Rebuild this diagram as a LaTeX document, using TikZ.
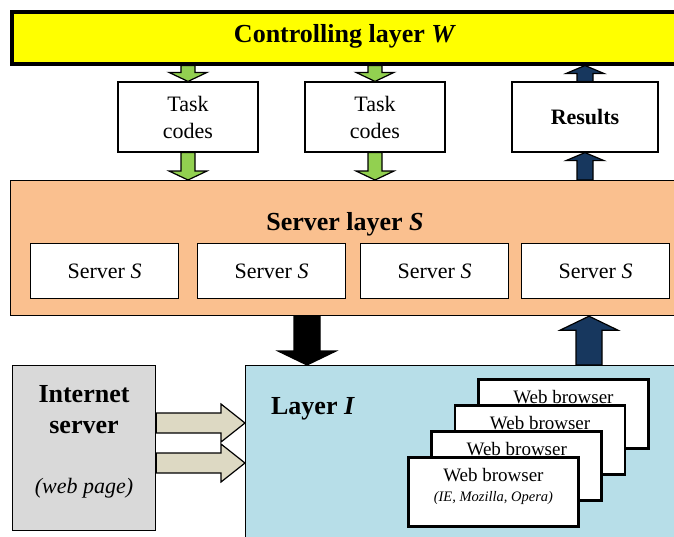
\documentclass[tikz,border=0pt]{standalone}
\usepackage{fontspec}
\setmainfont{Liberation Serif}
\usetikzlibrary{calc}

\definecolor{ctrlyellow}{HTML}{FFFF00}
\definecolor{taskgreen}{HTML}{92D050}
\definecolor{resnavy}{HTML}{17375E}
\definecolor{srvpeach}{HTML}{FAC08F}
\definecolor{layerblue}{HTML}{B7DEE8}
\definecolor{inetgray}{HTML}{D9D9D9}
\definecolor{pagebeige}{HTML}{DDD9C3}

% block arrow from #2 to #3: fill #1, shaft half width #4, head half width #5, head length #6
\newcommand{\blockarrow}[6]{%
  \coordinate (ah) at ($(#3)!#6!(#2)$);
  \filldraw[fill=#1, line width=1.2pt, line join=miter]
    ($(#2)!#4!90:(#3)$) -- ($(ah)!#4!90:(#3)$) -- ($(ah)!#5!90:(#3)$) -- (#3)
    -- ($(ah)!#5!-90:(#3)$) -- ($(ah)!#4!-90:(#3)$) -- ($(#2)!#4!-90:(#3)$) -- cycle;
}

\begin{document}
\begin{tikzpicture}[x=1pt, y=-1pt,
    box/.style={draw, line width=1.2pt, fill=white, inner sep=0pt, align=center},
    layerbox/.style={draw, line width=1.2pt, inner sep=0pt, anchor=north west},
    browser/.style={draw, line width=2.8pt, fill=white, inner sep=0pt, anchor=north west,
      minimum width=170pt, minimum height=69pt},
    titletext/.style={font=\bfseries\fontsize{26}{30}\selectfont, align=center}]
  \useasboundingbox (0,0) rectangle (674,536);
  \clip (0,0) rectangle (674,536);

  % layers
  \node[layerbox, fill=ctrlyellow, line width=3.5pt, minimum width=670pt, minimum height=52pt] (ctrl) at (10,10) {};
  \node[titletext] (ctrltitle) at (345,36) {Controlling layer \textit{W}};
  \node[layerbox, fill=srvpeach, minimum width=670pt, minimum height=135pt] (srvlayer) at (10,180) {};
  \node[titletext] (srvtitle) at (345,224) {Server layer \textit{S}};
  \node[layerbox, fill=layerblue, minimum width=440pt, minimum height=200pt] (layerI) at (245,365) {};
  \node[titletext, font=\bfseries\fontsize{26}{30}\selectfont] (layerItitle) at (313,409) {Layer \textit{I}};
  \node[layerbox, fill=inetgray, minimum width=143pt, minimum height=165pt] (inet) at (12,365) {};
  \node[titletext, font=\bfseries\fontsize{26}{31}\selectfont] (inettitle) at (84,410) {Internet\\server};
  \node[font=\itshape\fontsize{22}{26}\selectfont] (inetpage) at (84,488) {(web page)};

  % boxes between the layers
  \node[box, minimum width=140pt, minimum height=70pt, font=\fontsize{22}{27}\selectfont] (tc1) at (188,117) {Task\\codes};
  \node[box, minimum width=140pt, minimum height=70pt, font=\fontsize{22}{27}\selectfont] (tc2) at (375,117) {Task\\codes};
  \node[box, minimum width=146pt, minimum height=70pt, font=\bfseries\fontsize{22}{27}\selectfont] (res) at (585,117) {Results};

  % servers
  \foreach \i/\sx in {1/30, 2/197, 3/360, 4/521}
    \node[box, anchor=north west, minimum width=148pt, minimum height=55pt,
      font=\fontsize{22}{25}\selectfont] (srv\i) at (\sx,243) {Server \textit{S}};

  % web browsers, back to front
  \foreach \i in {0,...,3}
    \node[browser, label={[font=\fontsize{19}{22}\selectfont, anchor=north, inner sep=0pt, yshift=-12pt]north:Web browser}]
      (b\i) at ({477-23.33*\i},{378+26*\i}) {};
  \node[font=\itshape\fontsize{14.5}{17}\selectfont] (ietext) at ($(b3.north)+(0,42)$) {(IE, Mozilla, Opera)};

  % arrows
  \coordinate (g1a) at (tc1.north |- ctrl.south);
  \coordinate (g2a) at (tc2.north |- ctrl.south);
  \coordinate (g1b) at (tc1.south |- srvlayer.north);
  \coordinate (g2b) at (tc2.south |- srvlayer.north);
  \coordinate (n1a) at (res.north |- ctrl.south);
  \coordinate (n1b) at (res.south |- srvlayer.north);
  \blockarrow{taskgreen}{g1a}{tc1.north}{7pt}{19pt}{9pt}
  \blockarrow{taskgreen}{g2a}{tc2.north}{7pt}{19pt}{9pt}
  \blockarrow{taskgreen}{tc1.south}{g1b}{7pt}{19pt}{9pt}
  \blockarrow{taskgreen}{tc2.south}{g2b}{7pt}{19pt}{9pt}
  \blockarrow{resnavy}{res.north}{n1a}{8pt}{19pt}{8pt}
  \blockarrow{resnavy}{n1b}{res.south}{8pt}{19pt}{8pt}

  \coordinate (k1) at (307,0 |- srvlayer.south);
  \coordinate (k2) at (307,0 |- layerI.north);
  \coordinate (n2a) at (589,0 |- layerI.north);
  \coordinate (n2b) at (589,0 |- srvlayer.south);
  \blockarrow{black}{k1}{k2}{13pt}{29pt}{14pt}
  \blockarrow{resnavy}{n2a}{n2b}{13pt}{29pt}{14pt}

  \coordinate (p1a) at (inet.east |- 0,423);
  \coordinate (p1b) at (layerI.west |- 0,423);
  \coordinate (p2a) at (inet.east |- 0,463);
  \coordinate (p2b) at (layerI.west |- 0,463);
  \blockarrow{pagebeige}{p1a}{p1b}{10pt}{19pt}{24pt}
  \blockarrow{pagebeige}{p2a}{p2b}{10pt}{19pt}{24pt}
\end{tikzpicture}
\end{document}
